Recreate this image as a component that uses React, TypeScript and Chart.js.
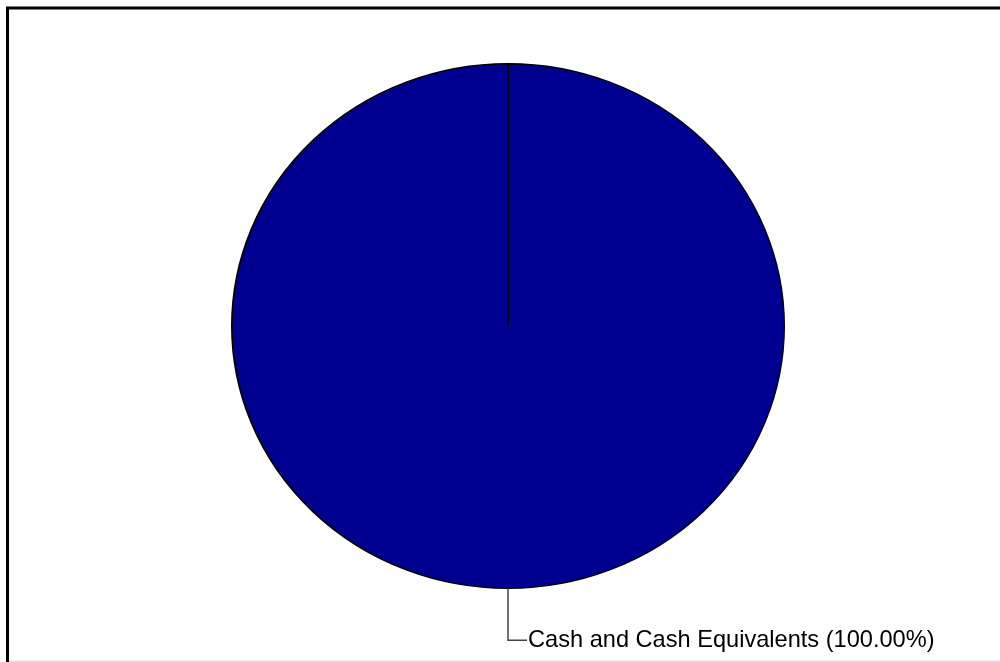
import React, { useEffect, useRef } from "react";
import { Chart, registerables } from "chart.js";

Chart.register(...registerables);

const categories: string[] = ["Cash and Cash Equivalents"];
const values: number[] = [100];
const sliceColors: string[] = ["#000090"];

const ELLIPSE_X = 554 / 526;

const pieStretch = {
  id: "pieStretch",
  beforeDatasetsDraw(chart: any) {
    const arc = chart.getDatasetMeta(0).data[0];
    const ctx = chart.ctx;
    ctx.save();
    ctx.translate(arc.x, arc.y);
    ctx.scale(ELLIPSE_X, 1);
    ctx.translate(-arc.x, -arc.y);
  },
  afterDatasetsDraw(chart: any) {
    const ctx = chart.ctx;
    const arc = chart.getDatasetMeta(0).data[0];
    ctx.beginPath();
    ctx.strokeStyle = "#000";
    ctx.lineWidth = 1.5;
    ctx.moveTo(arc.x, arc.y);
    ctx.lineTo(
      arc.x + Math.cos(arc.startAngle) * arc.outerRadius,
      arc.y + Math.sin(arc.startAngle) * arc.outerRadius
    );
    ctx.stroke();
    ctx.restore();
  },
  afterDraw(chart: any) {
    const ctx = chart.ctx;
    const arc = chart.getDatasetMeta(0).data[0];
    const total = values.reduce((a, b) => a + b, 0);
    const label = `${categories[0]} (${((values[0] / total) * 100).toFixed(2)}%)`;
    const bottomY = arc.y + arc.outerRadius;
    ctx.save();
    ctx.beginPath();
    ctx.strokeStyle = "#444";
    ctx.lineWidth = 1.5;
    ctx.moveTo(arc.x, bottomY);
    ctx.lineTo(arc.x, bottomY + 52);
    ctx.lineTo(arc.x + 19, bottomY + 52);
    ctx.stroke();
    ctx.fillStyle = "#000";
    ctx.font = '23.6px "Liberation Sans", Arial, sans-serif';
    ctx.textBaseline = "alphabetic";
    ctx.textAlign = "left";
    ctx.fillText(label, arc.x + 20, bottomY + 59);
    ctx.strokeStyle = "#000";
    ctx.lineWidth = 3;
    ctx.beginPath();
    ctx.moveTo(7.5, 662);
    ctx.lineTo(7.5, 8);
    ctx.lineTo(1000, 8);
    ctx.stroke();
    ctx.strokeStyle = "#ddd";
    ctx.lineWidth = 1.5;
    ctx.beginPath();
    ctx.moveTo(9, 661.25);
    ctx.lineTo(1000, 661.25);
    ctx.stroke();
    ctx.restore();
  },
};

export default function App() {
  const ref = useRef<HTMLCanvasElement | null>(null);
  useEffect(() => {
    document.body.style.margin = "0";
    const chart = new Chart(ref.current as HTMLCanvasElement, {
      type: "pie",
      data: {
        labels: categories,
        datasets: [
          {
            data: values,
            backgroundColor: sliceColors,
            borderColor: "#000",
            borderWidth: 1.5,
          },
        ],
      },
      options: {
        animation: false,
        responsive: false,
        devicePixelRatio: 1,
        layout: { padding: { left: 245, right: 229, top: 63, bottom: 73 } },
        plugins: {
          legend: { display: false },
          tooltip: { enabled: false },
        },
      },
      plugins: [pieStretch],
    });
    return () => chart.destroy();
  }, []);
  return (
    <div style={{ width: 1000, height: 662, background: "#fff" }}>
      <canvas ref={ref} width={1000} height={662} style={{ display: "block" }} />
    </div>
  );
}
